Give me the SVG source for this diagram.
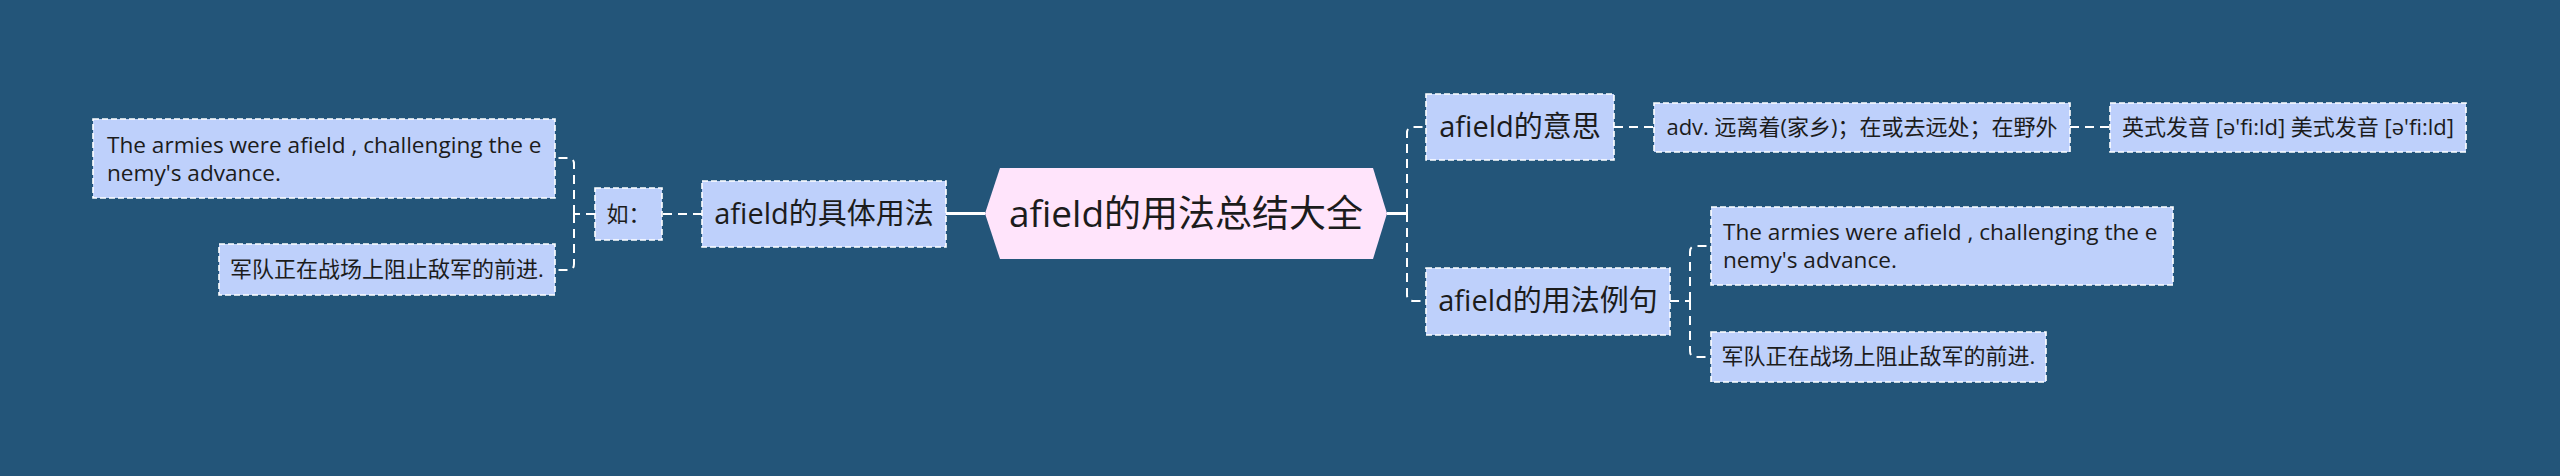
<svg xmlns="http://www.w3.org/2000/svg" width="2560" height="476" viewBox="0 0 2560 476">
<style>
.box{fill:#bed0fb;stroke:#ffffff;stroke-width:1.6;stroke-dasharray:6 3}
.root{fill:#ffe4fb;stroke:none}
.t{font-family:"Open Sans","Noto Sans CJK SC",sans-serif;fill:#1c1c1c}
.t1{font-size:29px}
.t2{font-size:22px}
.te{font-size:22.6px}
.t0{font-size:37px}
.c{fill:none;stroke:#ffffff;stroke-width:2;stroke-dasharray:9 6}
.s{fill:none;stroke:#ffffff;stroke-width:3}
</style>
<rect width="2560" height="476" fill="#235579"/>
<g id="connectors">
<path class="s" d="M985,213.5 H946"/>
<path class="c" d="M702,214 H662"/>
<path class="c" d="M595,214 H574"/>
<path class="c" d="M574,214 V164 Q574,158 568,158 H555"/>
<path class="c" d="M574,214 V264 Q574,270 568,270 H555"/>
<path class="s" d="M1387,213.5 H1407"/>
<path class="c" d="M1407,213 V133 Q1407,127 1413,127 H1426"/>
<path class="c" d="M1407,213 V295 Q1407,301 1413,301 H1426"/>
<path class="c" d="M1614,127 H1654"/>
<path class="c" d="M2070,127 H2110"/>
<path class="c" d="M1670,301 H1690"/>
<path class="c" d="M1690,301 V252 Q1690,246 1696,246 H1711"/>
<path class="c" d="M1690,301 V351 Q1690,357 1696,357 H1711"/>
</g>
<g id="root">
<polygon class="root" points="985,213.5 1000,168 1373,168 1387,213.5 1373,259 1000,259"/>
<text class="t t0" x="1186" y="227" text-anchor="middle">afield的用法总结大全</text>
</g>
<g id="n-usage">
<rect class="box" x="702" y="181" width="244" height="66"/>
<text class="t t1" x="824" y="224" text-anchor="middle">afield的具体用法</text>
</g>
<g id="n-ru">
<rect class="box" x="595" y="188" width="67" height="52"/>
<text class="t t2" x="628.5" y="222" text-anchor="middle">如：</text>
</g>
<g id="n-left-en">
<rect class="box" x="93" y="119" width="462" height="79"/>
<text class="t te" x="107" y="153">The armies were afield , challenging the e</text>
<text class="t te" x="107" y="181">nemy's advance.</text>
</g>
<g id="n-left-zh">
<rect class="box" x="219" y="244" width="336" height="51"/>
<text class="t t2" x="387" y="277" text-anchor="middle">军队正在战场上阻止敌军的前进.</text>
</g>
<g id="n-meaning">
<rect class="box" x="1426" y="94" width="188" height="66"/>
<text class="t t1" x="1520" y="137" text-anchor="middle">afield的意思</text>
</g>
<g id="n-adv">
<rect class="box" x="1654" y="103" width="416" height="49"/>
<text class="t t2" x="1862" y="135" text-anchor="middle">adv. 远离着(家乡)；在或去远处；在野外</text>
</g>
<g id="n-pron">
<rect class="box" x="2110" y="103" width="356" height="49"/>
<text class="t t2" x="2288" y="135" text-anchor="middle">英式发音 [ə'fi:ld] 美式发音 [ə'fi:ld]</text>
</g>
<g id="n-examples">
<rect class="box" x="1426" y="268" width="244" height="67"/>
<text class="t t1" x="1548" y="311" text-anchor="middle">afield的用法例句</text>
</g>
<g id="n-right-en">
<rect class="box" x="1711" y="207" width="462" height="78"/>
<text class="t te" x="1723" y="240">The armies were afield , challenging the e</text>
<text class="t te" x="1723" y="268">nemy's advance.</text>
</g>
<g id="n-right-zh">
<rect class="box" x="1711" y="332" width="335" height="50"/>
<text class="t t2" x="1878.5" y="364" text-anchor="middle">军队正在战场上阻止敌军的前进.</text>
</g>
</svg>
